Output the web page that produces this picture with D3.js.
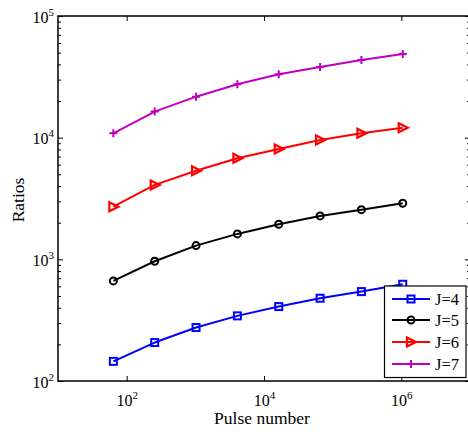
<!DOCTYPE html>
<html>
<head>
<meta charset="utf-8">
<script src="https://cdn.jsdelivr.net/npm/d3@7"></script>
<style>
  html, body { margin: 0; padding: 0; background: #fff; }
  svg { display: block; }
  svg text { font-family: 'Liberation Serif', 'DejaVu Serif', serif; }
</style>
</head>
<body>
<svg id="chart" width="468" height="432"></svg>
<script>
// Pulse numbers (powers of four)
const pulses = [64, 256, 1024, 4096, 16384, 65536, 262144, 1048576];

// Ratio series for each J
const ratiosJ4 = [145, 207, 275, 343, 409, 479, 543, 624];
const ratiosJ5 = [665, 964, 1297, 1618, 1942, 2274, 2561, 2891];
const ratiosJ6 = [2710, 4090, 5350, 6770, 8080, 9580, 10870, 12080];
const ratiosJ7 = [10860, 16370, 21720, 27470, 33190, 38100, 43500, 48700];

const seriesNames = ["J=4", "J=5", "J=6", "J=7"];
const xTickValues = [1e2, 1e4, 1e6];
const yTickValues = [1e2, 1e3, 1e4, 1e5];
const xLabel = "Pulse number";
const yLabel = "Ratios";

const series = [
  { name: seriesNames[0], values: ratiosJ4, color: "#0000ff", marker: "square" },
  { name: seriesNames[1], values: ratiosJ5, color: "#000000", marker: "circle" },
  { name: seriesNames[2], values: ratiosJ6, color: "#ff0000", marker: "triangle" },
  { name: seriesNames[3], values: ratiosJ7, color: "#bf00bf", marker: "plus" }
];

const FONT = "'Liberation Serif', 'DejaVu Serif', serif";

const svg = d3.select("#chart");
const plotLeft = 58, plotRight = 470, plotTop = 16, plotBottom = 381;

const x = d3.scaleLog().domain([10, 1e7]).range([plotLeft, plotRight]);
const y = d3.scaleLog().domain([1e2, 1e5]).range([plotBottom, plotTop]);

// minor ticks for the log y axis (2..9 within each decade)
const yMinor = [];
for (let e = 2; e < 5; e++) for (let k = 2; k <= 9; k++) yMinor.push(k * Math.pow(10, e));

const axisG = svg.append("g").attr("class", "axes");

function powerLabel(sel, v, anchor) {
  const exp = Math.round(Math.log10(v));
  sel.text(null);
  sel.append("tspan").attr("font-size", 16).text("10");
  sel.append("tspan").attr("font-size", 11).attr("dy", -7).text(exp);
  sel.attr("text-anchor", anchor).attr("font-family", FONT);
}

// bottom axis with labels
const xb = axisG.append("g").attr("transform", `translate(0,${plotBottom})`)
  .call(d3.axisBottom(x).tickValues(xTickValues).tickSizeInner(-5).tickSizeOuter(0).tickPadding(14));
xb.attr("font-family", FONT);
xb.selectAll(".tick text").each(function(d) {
  const t = d3.select(this);
  t.attr("dy", null).attr("y", 25).attr("fill", "#000");
  powerLabel(t, d, "middle");
});

// top axis, ticks only
axisG.append("g").attr("transform", `translate(0,${plotTop})`)
  .call(d3.axisTop(x).tickValues(xTickValues).tickSizeInner(-5).tickSizeOuter(0).tickFormat(""));

// left axis with labels
const yl = axisG.append("g").attr("transform", `translate(${plotLeft},0)`)
  .call(d3.axisLeft(y).tickValues(yTickValues).tickSizeInner(-5).tickSizeOuter(0).tickPadding(8));
yl.attr("font-family", FONT);
yl.selectAll(".tick text").each(function(d) {
  const t = d3.select(this);
  t.attr("dy", null).attr("y", 6).attr("x", -4).attr("fill", "#000");
  powerLabel(t, d, "end");
});
axisG.append("g").attr("transform", `translate(${plotLeft},0)`)
  .call(d3.axisLeft(y).tickValues(yMinor).tickSizeInner(-3).tickSizeOuter(0).tickFormat(""));

// right axis, ticks only
axisG.append("g").attr("transform", `translate(${plotRight},0)`)
  .call(d3.axisRight(y).tickValues(yTickValues).tickSizeInner(-5).tickSizeOuter(0).tickFormat(""));
axisG.append("g").attr("transform", `translate(${plotRight},0)`)
  .call(d3.axisRight(y).tickValues(yMinor).tickSizeInner(-3).tickSizeOuter(0).tickFormat(""));

axisG.selectAll(".domain").remove();
axisG.selectAll(".tick line").attr("stroke", "#000").attr("stroke-width", 1);

// frame of the plot box
svg.append("rect")
  .attr("x", plotLeft).attr("y", plotTop)
  .attr("width", plotRight - plotLeft).attr("height", plotBottom - plotTop)
  .attr("fill", "none").attr("stroke", "#000").attr("stroke-width", 1.5);

// axis titles
svg.append("text")
  .attr("x", 262).attr("y", 424)
  .attr("text-anchor", "middle").attr("font-size", 17.5).attr("font-family", FONT)
  .text(xLabel);
svg.append("text")
  .attr("transform", "translate(24,200) rotate(-90)")
  .attr("text-anchor", "middle").attr("font-size", 17.5).attr("font-family", FONT)
  .text(yLabel);

function drawMarker(g, type, color) {
  if (type === "square") {
    g.append("rect").attr("x", -3.5).attr("y", -3.5).attr("width", 7).attr("height", 7)
      .attr("fill", "none").attr("stroke", color).attr("stroke-width", 2);
  } else if (type === "circle") {
    g.append("circle").attr("r", 3.5)
      .attr("fill", "none").attr("stroke", color).attr("stroke-width", 2);
  } else if (type === "triangle") {
    g.append("path").attr("d", "M-4,-4.5L-4,4.5L5,0Z")
      .attr("fill", "none").attr("stroke", color).attr("stroke-width", 2.2)
      .attr("stroke-linejoin", "miter");
  } else if (type === "plus") {
    g.append("path").attr("d", "M-4,0H4M0,-4V4")
      .attr("fill", "none").attr("stroke", color).attr("stroke-width", 2);
  }
}

const line = d3.line().x(d => x(d[0])).y(d => y(d[1]));

const plot = svg.append("g");
series.forEach(s => {
  const pts = pulses.map((p, i) => [p, s.values[i]]);
  plot.append("path").datum(pts)
    .attr("d", line)
    .attr("fill", "none").attr("stroke", s.color).attr("stroke-width", 2)
    .attr("stroke-linejoin", "round");
  pts.forEach(p => {
    const g = plot.append("g").attr("transform", `translate(${x(p[0])},${y(p[1])})`);
    drawMarker(g, s.marker, s.color);
  });
});

// legend
const lg = svg.append("g");
lg.append("rect")
  .attr("x", 384.5).attr("y", 286).attr("width", 81.5).attr("height", 91.5)
  .attr("fill", "#fff").attr("stroke", "#000").attr("stroke-width", 1.2);
const legendY = [299, 320, 342, 364];
series.forEach((s, i) => {
  const yy = legendY[i];
  lg.append("line").attr("x1", 392).attr("x2", 430).attr("y1", yy).attr("y2", yy)
    .attr("stroke", s.color).attr("stroke-width", 2);
  const g = lg.append("g").attr("transform", `translate(411,${yy})`);
  drawMarker(g, s.marker, s.color);
  lg.append("text").attr("x", 435).attr("y", yy + 6)
    .attr("font-size", 16.5).attr("font-family", FONT).text(s.name);
});
</script>
</body>
</html>
